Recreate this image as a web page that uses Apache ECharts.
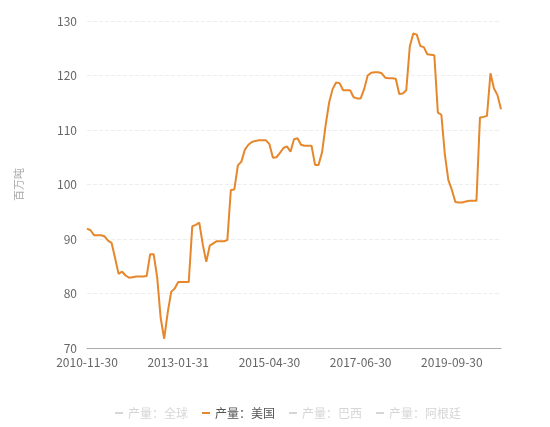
<!DOCTYPE html>
<html>
<head>
<meta charset="utf-8">
<script src="https://cdn.jsdelivr.net/npm/echarts@6/dist/echarts.min.js"></script>
<style>
  html, body { margin: 0; padding: 0; background: #fff; }
  #chart { width: 550px; height: 427px; }
</style>
</head>
<body>
<div id="chart"></div>
<script>
// 日期（月末）
const dates = [
  '2010-11-30', '2010-12-31',
  '2011-01-31', '2011-02-28', '2011-03-31', '2011-04-30', '2011-05-31', '2011-06-30',
  '2011-07-31', '2011-08-31', '2011-09-30', '2011-10-31', '2011-11-30', '2011-12-31',
  '2012-01-31', '2012-02-29', '2012-03-31', '2012-04-30', '2012-05-31', '2012-06-30',
  '2012-07-31', '2012-08-31', '2012-09-30', '2012-10-31', '2012-11-30', '2012-12-31',
  '2013-01-31', '2013-02-28', '2013-03-31', '2013-04-30', '2013-05-31', '2013-06-30',
  '2013-07-31', '2013-08-31', '2013-09-30', '2013-10-31', '2013-11-30',
  '2014-01-31', '2014-02-28', '2014-03-31', '2014-04-30', '2014-05-31', '2014-06-30',
  '2014-07-31', '2014-08-31', '2014-09-30', '2014-10-31', '2014-11-30', '2014-12-31',
  '2015-01-31', '2015-02-28', '2015-03-31', '2015-04-30', '2015-05-31', '2015-06-30',
  '2015-07-31', '2015-08-31', '2015-09-30', '2015-10-31', '2015-11-30', '2015-12-31',
  '2016-01-31', '2016-02-29', '2016-03-31', '2016-04-30', '2016-05-31', '2016-06-30',
  '2016-07-31', '2016-08-31', '2016-09-30', '2016-10-31', '2016-11-30', '2016-12-31',
  '2017-01-31', '2017-02-28', '2017-03-31', '2017-04-30', '2017-05-31', '2017-06-30',
  '2017-07-31', '2017-08-31', '2017-09-30', '2017-10-31', '2017-11-30', '2017-12-31',
  '2018-01-31', '2018-02-28', '2018-03-31', '2018-04-30', '2018-05-31', '2018-06-30',
  '2018-07-31', '2018-08-31', '2018-09-30', '2018-10-31', '2018-11-30',
  '2019-01-31', '2019-02-28', '2019-03-31', '2019-04-30', '2019-05-31', '2019-06-30',
  '2019-07-31', '2019-08-31', '2019-09-30', '2019-10-31', '2019-11-30', '2019-12-31',
  '2020-01-31', '2020-02-29', '2020-03-31', '2020-04-30', '2020-05-31', '2020-06-30',
  '2020-07-31', '2020-08-31', '2020-09-30', '2020-10-31', '2020-11-30'
];

// 产量：美国（百万吨）
const usOutput = [
  91.9, 91.6,
  90.7, 90.7, 90.7, 90.5, 89.7, 89.3, 86.5, 83.6, 84.0, 83.3, 82.9, 83.0,
  83.1, 83.1, 83.1, 83.2, 87.2, 87.2, 83.0, 75.5, 71.7, 76.5, 80.3, 80.9,
  82.1, 82.1, 82.1, 82.1, 92.3, 92.6, 93.0, 89.0, 85.8, 88.8, 89.2,
  89.6, 89.6, 89.6, 89.8, 99.0, 99.1, 103.5, 104.2, 106.4, 107.3, 107.8, 108.0,
  108.1, 108.1, 108.1, 107.4, 104.9, 105.0, 105.8, 106.7, 107.0, 106.0, 108.3, 108.5,
  107.3, 107.1, 107.1, 107.1, 103.6, 103.6, 105.9, 110.8, 115.0, 117.5, 118.7, 118.6,
  117.3, 117.3, 117.3, 116.0, 115.8, 115.8,
  117.5, 120.0, 120.5, 120.6, 120.6, 120.4,
  119.6, 119.5, 119.5, 119.4, 116.6, 116.7, 117.3, 125.3, 127.7, 127.5, 125.4,
  125.2, 123.9, 123.8, 123.7, 113.2, 112.8, 105.5, 100.8, 99.0,
  96.8, 96.7, 96.7,
  96.9, 97.0, 97.0, 97.0, 112.3, 112.4, 112.6, 120.4, 117.6, 116.4, 113.8
];

const seriesNames = ['产量：全球', '产量：美国', '产量：巴西', '产量：阿根廷'];
const seriesColors = ['#5b8ff9', '#e6872b', '#5ad8a6', '#f6bd16'];
const yTicks = { min: 70, max: 130, interval: 10 };

const chart = echarts.init(document.getElementById('chart'));

const option = {
  animation: false,
  textStyle: {
    fontFamily: '"Noto Sans CJK SC", "Open Sans", sans-serif'
  },
  grid: {
    left: 87,
    right: 49,
    top: 21,
    bottom: 79
  },
  legend: {
    data: seriesNames,
    left: 110,
    top: 402,
    icon: 'rect',
    itemWidth: 8,
    itemHeight: 2,
    itemGap: 14,
    inactiveColor: '#d6d6d6',
    textStyle: {
      color: '#555',
      fontSize: 12
    },
    selected: {
      '产量：全球': false,
      '产量：美国': true,
      '产量：巴西': false,
      '产量：阿根廷': false
    }
  },
  xAxis: {
    type: 'category',
    data: dates,
    boundaryGap: false,
    axisLine: {
      lineStyle: { color: '#aaa' }
    },
    axisTick: { show: false },
    axisLabel: {
      interval: 25,
      color: '#666',
      fontSize: 12,
      margin: 8
    }
  },
  yAxis: {
    type: 'value',
    name: '百万吨',
    nameLocation: 'middle',
    nameRotate: 90,
    nameGap: 63,
    nameTextStyle: {
      color: '#aaa',
      fontSize: 11
    },
    min: yTicks.min,
    max: yTicks.max,
    interval: yTicks.interval,
    axisLine: { show: false },
    axisTick: { show: false },
    axisLabel: {
      color: '#666',
      fontSize: 12,
      margin: 10
    },
    splitLine: {
      lineStyle: {
        color: '#eee',
        type: 'dashed'
      }
    }
  },
  series: seriesNames.map((name, i) => ({
    name: name,
    type: 'line',
    symbol: 'none',
    color: seriesColors[i],
    lineStyle: { width: 2 },
    data: i === 1 ? usOutput : []
  }))
};

chart.setOption(option);
</script>
</body>
</html>
